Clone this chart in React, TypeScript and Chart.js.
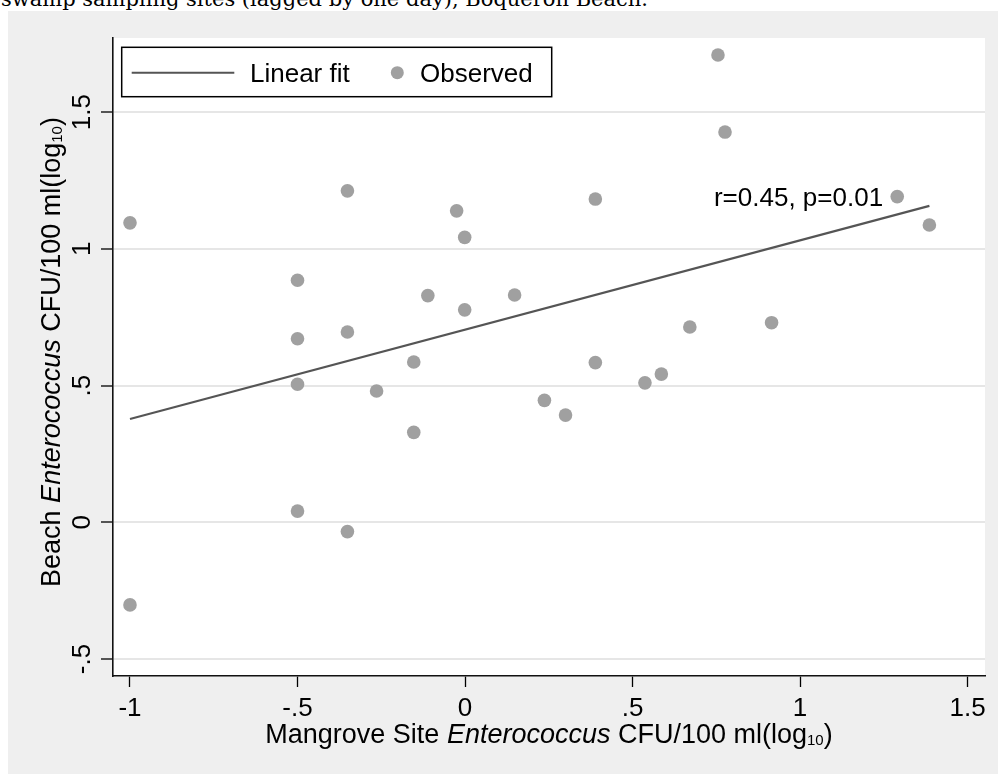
import React, { useEffect, useRef } from 'react';
import { Chart, registerables } from 'chart.js';

Chart.register(...registerables);

// ---- data ----
const mangroveX = [
  -1, -1, -0.5, -0.5, -0.5, -0.5, -0.351, -0.351, -0.351, -0.264, -0.153, -0.153, -0.111, -0.025,
  -0.001, -0.001, 0.148, 0.237, 0.3, 0.389, 0.389, 0.537, 0.586, 0.671, 0.755, 0.776, 0.915, 1.29, 1.386,
];
const beachY = [
  1.095, -0.302, 0.885, 0.671, 0.505, 0.041, 1.212, 0.696, -0.034, 0.48, 0.586, 0.329, 0.829, 1.139,
  1.042, 0.777, 0.831, 0.446, 0.392, 1.182, 0.584, 0.51, 0.542, 0.714, 1.709, 1.427, 0.73, 1.191, 1.087,
];
const fitX = [-1, 1.386];
const fitY = [0.378, 1.157];

const xTickValues = [-1, -0.5, 0, 0.5, 1, 1.5];
const xTickLabels = ['-1', '-.5', '0', '.5', '1', '1.5'];
const yTickValues = [-0.5, 0, 0.5, 1, 1.5];
const yTickLabels = ['-.5', '0', '.5', '1', '1.5'];
const xRange = [-1.0507, 1.552];
const yRange = [-0.562, 1.771];

const legendLabels = ['Linear fit', 'Observed'];
const annotationText = 'r=0.45, p=0.01';
const annotationAt = [0.743, 1.155];

type Seg = { t: string; i?: boolean; sub?: boolean };
const xTitleParts: Seg[] = [
  { t: 'Mangrove Site ' },
  { t: 'Enterococcus', i: true },
  { t: ' CFU/100 ml(log' },
  { t: '10', sub: true },
  { t: ')' },
];
const yTitleParts: Seg[] = [
  { t: 'Beach ' },
  { t: 'Enterococcus', i: true },
  { t: ' CFU/100 ml(log' },
  { t: '10', sub: true },
  { t: ')' },
];
const captionText = 'swamp sampling sites (lagged by one day), Boqueron Beach.';

// ---- styles ----
const FONT = '"Liberation Sans", Arial, Helvetica, sans-serif';
const TEXT_SIZE = 26;
const TITLE_SIZE = 27;
const POINT_COLOR = '#a0a0a0';
const LINE_COLOR = '#555555';

function fontOf(seg: Seg, size: number) {
  const s = seg.sub ? Math.round(size * 0.54) : size;
  return `${seg.i ? 'italic ' : ''}${s}px ${FONT}`;
}

function drawRich(ctx: CanvasRenderingContext2D, segs: Seg[], cx: number, baseline: number, size: number) {
  let total = 0;
  const widths = segs.map((s) => {
    ctx.font = fontOf(s, size);
    const w = ctx.measureText(s.t).width;
    total += w;
    return w;
  });
  let x = cx - total / 2;
  ctx.textAlign = 'left';
  ctx.textBaseline = 'alphabetic';
  segs.forEach((s, k) => {
    ctx.font = fontOf(s, size);
    ctx.fillText(s.t, x, baseline + (s.sub ? 2 : 0));
    x += widths[k];
  });
}

const decor = {
  id: 'decor',
  beforeDraw(chart: any) {
    const { ctx, width, height, chartArea: a } = chart;
    ctx.save();
    ctx.fillStyle = '#efefef';
    ctx.fillRect(0, 0, width, height);
    ctx.fillStyle = '#ffffff';
    ctx.fillRect(a.left, a.top, a.right - a.left, a.bottom - a.top);
    ctx.restore();
  },
  afterDraw(chart: any) {
    const { ctx, chartArea: a } = chart;
    const xs = chart.scales.x;
    const ys = chart.scales.y;
    ctx.save();
    ctx.fillStyle = '#000';
    ctx.font = `${TEXT_SIZE}px ${FONT}`;

    // y tick labels (rotated)
    yTickValues.forEach((v, k) => {
      const py = ys.getPixelForValue(v);
      ctx.save();
      ctx.translate(a.left - 23, py);
      ctx.rotate(-Math.PI / 2);
      ctx.textAlign = 'center';
      ctx.textBaseline = 'alphabetic';
      ctx.fillText(yTickLabels[k], 0, 0);
      ctx.restore();
    });

    // x tick labels
    ctx.textAlign = 'center';
    ctx.textBaseline = 'alphabetic';
    xTickValues.forEach((v, k) => {
      const px = xs.getPixelForValue(v);
      ctx.fillText(xTickLabels[k], px, a.bottom + 40);
    });

    // axis titles
    drawRich(ctx, xTitleParts, (a.left + a.right) / 2, a.bottom + 67, TITLE_SIZE);
    ctx.save();
    ctx.translate(a.left - 53, (a.top + a.bottom) / 2 - 5);
    ctx.rotate(-Math.PI / 2);
    drawRich(ctx, yTitleParts, 0, 0, TITLE_SIZE);
    ctx.restore();

    // annotation
    ctx.font = `${TEXT_SIZE}px ${FONT}`;
    ctx.textAlign = 'left';
    ctx.textBaseline = 'alphabetic';
    ctx.fillText(annotationText, xs.getPixelForValue(annotationAt[0]), ys.getPixelForValue(annotationAt[1]));

    // legend
    const bx = a.left + 8.7;
    const by = a.top + 9.3;
    const bw = 430;
    const bh = 49.4;
    ctx.fillStyle = '#fff';
    ctx.fillRect(bx, by, bw, bh);
    ctx.strokeStyle = '#000';
    ctx.lineWidth = 1.5;
    ctx.strokeRect(bx, by, bw, bh);
    const cy = by + 25.4;
    ctx.strokeStyle = LINE_COLOR;
    ctx.lineWidth = 2;
    ctx.beginPath();
    ctx.moveTo(bx + 10, cy);
    ctx.lineTo(bx + 112.6, cy);
    ctx.stroke();
    ctx.fillStyle = POINT_COLOR;
    ctx.beginPath();
    ctx.arc(bx + 275.6, cy, 6.5, 0, Math.PI * 2);
    ctx.fill();
    ctx.fillStyle = '#000';
    ctx.font = `${TEXT_SIZE}px ${FONT}`;
    ctx.fillText(legendLabels[0], bx + 128.3, cy + 9.3);
    ctx.fillText(legendLabels[1], bx + 298.3, cy + 9.3);
    ctx.restore();
  },
};

export default function App() {
  const ref = useRef<HTMLCanvasElement | null>(null);
  useEffect(() => {
    if (!ref.current) return;
    const chart = new Chart(ref.current, {
      type: 'scatter',
      data: {
        datasets: [
          {
            type: 'scatter',
            label: legendLabels[1],
            data: mangroveX.map((x, i) => ({ x, y: beachY[i] })),
            pointRadius: 6.8,
            pointBackgroundColor: POINT_COLOR,
            pointBorderWidth: 0,
            backgroundColor: POINT_COLOR,
          },
          {
            type: 'line',
            label: legendLabels[0],
            data: fitX.map((x, i) => ({ x, y: fitY[i] })),
            borderColor: LINE_COLOR,
            borderWidth: 2.2,
            pointRadius: 0,
            fill: false,
          } as any,
        ],
      },
      options: {
        animation: false,
        responsive: false,
        events: [],
        layout: { padding: { left: 0, top: 27, right: 13, bottom: 0 } },
        plugins: { legend: { display: false }, tooltip: { enabled: false }, title: { display: false } },
        scales: {
          x: {
            type: 'linear',
            min: xRange[0],
            max: xRange[1],
            afterBuildTicks: (s: any) => {
              s.ticks = xTickValues.map((value) => ({ value }));
            },
            afterFit: (s: any) => {
              s.height = 98;
            },
            ticks: { display: false },
            grid: {
              drawOnChartArea: false,
              drawTicks: true,
              tickLength: 11,
              tickColor: '#000',
              tickWidth: 1.3,
            },
            border: { display: true, color: '#111', width: 1.6 },
          },
          y: {
            type: 'linear',
            min: yRange[0],
            max: yRange[1],
            afterBuildTicks: (s: any) => {
              s.ticks = yTickValues.map((value) => ({ value }));
            },
            afterFit: (s: any) => {
              s.width = 105;
            },
            ticks: { display: false },
            grid: {
              drawOnChartArea: true,
              color: '#e6e6e6',
              lineWidth: 2,
              drawTicks: true,
              tickLength: 12,
              tickColor: '#000',
              tickWidth: 1.3,
            },
            border: { display: true, color: '#111', width: 1.6 },
          },
        },
      },
      plugins: [decor],
    });
    return () => chart.destroy();
  }, []);

  return (
    <div style={{ position: 'absolute', left: 0, top: 0, width: 998, height: 774, overflow: 'hidden', background: '#fff' }}>
      <svg width={998} height={12} style={{ position: 'absolute', left: 0, top: 0 }}>
        <text x={1} y={6} fontFamily='"DejaVu Serif", "Liberation Serif", serif' fontSize={21} fill="#000">
          {captionText}
        </text>
      </svg>
      <canvas
        ref={ref}
        width={990}
        height={763}
        style={{ position: 'absolute', left: 8, top: 11, display: 'block', width: 990, height: 763 }}
      />
    </div>
  );
}
